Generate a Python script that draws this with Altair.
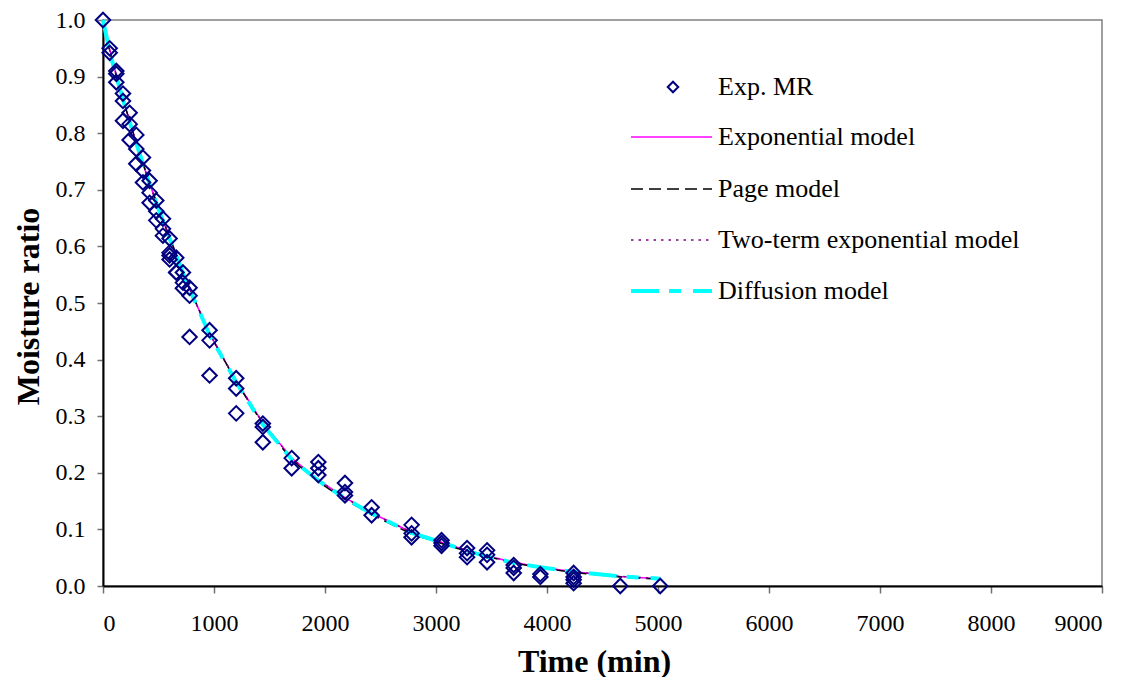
import altair as alt
import pandas as pd

# ---------------- data ----------------
exp_time = [0,
            60, 60,
            120, 120, 120,
            180, 180, 180,
            240, 240, 240,
            300, 300, 300,
            360, 360, 360,
            420, 420, 420,
            480, 480, 480,
            540, 540, 540,
            600, 600, 600, 600,
            660, 660, 660,
            720, 720, 720,
            780, 780, 780,
            960, 960, 960,
            1200, 1200, 1200,
            1440, 1440, 1440,
            1700, 1700,
            1940, 1940, 1940,
            2180, 2180, 2180,
            2420, 2420,
            2780, 2780, 2780,
            3050, 3050, 3050,
            3280, 3280, 3280,
            3460, 3460, 3460,
            3700, 3700, 3700,
            3940, 3940,
            4240, 4240, 4240, 4240,
            4660,
            5020]
exp_mr = [1.0,
          0.950, 0.942,
          0.910, 0.905, 0.890,
          0.870, 0.857, 0.822,
          0.836, 0.816, 0.788,
          0.797, 0.772, 0.746,
          0.757, 0.734, 0.713,
          0.716, 0.695, 0.677,
          0.681, 0.662, 0.646,
          0.649, 0.631, 0.619,
          0.614, 0.589, 0.584, 0.577,
          0.580, 0.554, 0.554,
          0.554, 0.536, 0.526,
          0.527, 0.513, 0.440,
          0.452, 0.434, 0.372,
          0.367, 0.349, 0.305,
          0.287, 0.281, 0.254,
          0.226, 0.208,
          0.219, 0.208, 0.196,
          0.182, 0.166, 0.160,
          0.139, 0.125,
          0.108, 0.093, 0.086,
          0.081, 0.076, 0.071,
          0.067, 0.058, 0.051,
          0.063, 0.055, 0.042,
          0.037, 0.032, 0.023,
          0.021, 0.016,
          0.023, 0.016, 0.011, 0.005,
          0.0,
          0.0]

model_time = [0, 60, 120, 180, 240, 300, 360, 420, 480, 540, 600, 660, 720, 780,
              960, 1200, 1440, 1700, 1940, 2180, 2420, 2780, 3050, 3280, 3460,
              3700, 3940, 4240, 4660, 5020]
exponential_mr = [1.0, 0.948, 0.903, 0.861, 0.821, 0.782, 0.746, 0.711, 0.678, 0.646,
                  0.615, 0.585, 0.555, 0.525, 0.446, 0.362, 0.288, 0.226, 0.187,
                  0.156, 0.129, 0.095, 0.077, 0.063, 0.053, 0.042, 0.033, 0.025,
                  0.017, 0.013]
page_mr = [1.0, 0.945, 0.901, 0.860, 0.821, 0.783, 0.747, 0.712, 0.679, 0.647,
           0.616, 0.586, 0.556, 0.526, 0.446, 0.361, 0.286, 0.223, 0.184,
           0.153, 0.126, 0.092, 0.075, 0.061, 0.052, 0.041, 0.032, 0.024,
           0.016, 0.012]
two_term_mr = [1.0, 0.947, 0.902, 0.861, 0.821, 0.782, 0.746, 0.711, 0.678, 0.646,
               0.615, 0.585, 0.555, 0.525, 0.446, 0.362, 0.288, 0.226, 0.187,
               0.156, 0.129, 0.095, 0.077, 0.063, 0.053, 0.042, 0.033, 0.025,
               0.017, 0.013]
diffusion_mr = [1.0, 0.944, 0.900, 0.860, 0.820, 0.782, 0.746, 0.710, 0.677, 0.645,
                0.614, 0.584, 0.554, 0.524, 0.444, 0.360, 0.285, 0.224, 0.186,
                0.155, 0.128, 0.094, 0.077, 0.062, 0.052, 0.041, 0.033, 0.025,
                0.017, 0.013]

x_ticks = [0, 1000, 2000, 3000, 4000, 5000, 6000, 7000, 8000, 9000]
y_ticks = [0.0, 0.1, 0.2, 0.3, 0.4, 0.5, 0.6, 0.7, 0.8, 0.9, 1.0]

legend_labels = ["Exp. MR", "Exponential model", "Page model",
                 "Two-term exponential model", "Diffusion model"]

# ---------------- chart ----------------
FONT = "Liberation Serif"
NAVY = "#000080"
PAGE_DASH = [12, 6]
TWO_DASH = [2.5, 5]
DIFF_DASH = [28, 10, 12, 12]

exp_df = pd.DataFrame({"t": exp_time, "mr": exp_mr})

xscale = alt.Scale(domain=[0, 9000], nice=False)
yscale = alt.Scale(domain=[0, 1], nice=False)

x_axis = alt.Axis(values=x_ticks, title="Time (min)", grid=False, format="d",
                  domainColor="black", domainWidth=2, tickColor="#707070",
                  tickSize=7, tickWidth=1.5, labelPadding=18,
                  titleX=491, titleY=85, titleBaseline="alphabetic", titleAlign="center")
y_axis = alt.Axis(values=y_ticks, title="Moisture ratio", grid=False, format=".1f",
                  domainColor="black", domainWidth=2, tickColor="#707070",
                  tickSize=6, tickWidth=1.5, labelPadding=12,
                  titleX=-75, titleY=286, titleBaseline="middle", titleAlign="center",
                  titleAngle=270)


def model_line(vals, color, width, dash=None):
    df = pd.DataFrame({"t": model_time, "mr": vals})
    kw = dict(color=color, strokeWidth=width)
    if dash is not None:
        kw["strokeDash"] = dash
    return alt.Chart(df).mark_line(**kw).encode(
        x=alt.X("t:Q", scale=xscale, axis=x_axis),
        y=alt.Y("mr:Q", scale=yscale, axis=y_axis),
    )


l_exp = model_line(exponential_mr, "#FF00FF", 1.5)
l_page = model_line(page_mr, "black", 1.5, PAGE_DASH)
l_two = model_line(two_term_mr, "#800080", 1.5, TWO_DASH)
l_diff = model_line(diffusion_mr, "#00FFFF", 4, DIFF_DASH)

pts = alt.Chart(exp_df).mark_point(shape="diamond", filled=False, color=NAVY,
                                   opacity=1, strokeWidth=2, size=210).encode(
    x=alt.X("t:Q", scale=xscale, axis=x_axis),
    y=alt.Y("mr:Q", scale=yscale, axis=y_axis),
)

# ---------------- manual legend ----------------
leg_y = [67, 117, 169, 220, 271]
leg_x_text = 615
line_x0, line_x1 = 528, 609


def leg_text(label, y):
    return alt.Chart(pd.DataFrame({"lab": [label]})).mark_text(
        align="left", baseline="middle", font=FONT, fontSize=26, color="black"
    ).encode(x=alt.value(leg_x_text), y=alt.value(y), text="lab:N")


def leg_line(y, color, width, dash=None):
    kw = dict(color=color, strokeWidth=width)
    if dash is not None:
        kw["strokeDash"] = dash
    return alt.Chart(pd.DataFrame({"a": [0]})).mark_rule(**kw).encode(
        x=alt.value(line_x0), x2=alt.value(line_x1), y=alt.value(y))


leg_pt = alt.Chart(pd.DataFrame({"a": [0]})).mark_point(
    shape="diamond", filled=False, color=NAVY, opacity=1, strokeWidth=2, size=110
).encode(x=alt.value(570), y=alt.value(leg_y[0]))

legend_layers = [
    leg_pt, leg_text(legend_labels[0], leg_y[0]),
    leg_line(leg_y[1], "#FF00FF", 1.5), leg_text(legend_labels[1], leg_y[1]),
    leg_line(leg_y[2], "black", 1.5, PAGE_DASH), leg_text(legend_labels[2], leg_y[2]),
    leg_line(leg_y[3], "#800080", 1.5, TWO_DASH), leg_text(legend_labels[3], leg_y[3]),
    leg_line(leg_y[4], "#00FFFF", 4, DIFF_DASH), leg_text(legend_labels[4], leg_y[4]),
]

chart = alt.layer(l_exp, l_page, l_two, l_diff, pts, *legend_layers).properties(
    width=999, height=566,
    autosize=alt.AutoSizeParams(type="none"),
    padding={"left": 95, "top": 12, "right": 20, "bottom": 91},
).configure_view(
    stroke="#808080", strokeWidth=1.5
).configure_axis(
    labelFont=FONT, labelFontSize=24, labelColor="black",
    titleFont=FONT, titleFontSize=32, titleFontWeight="bold", titleColor="black",
)

chart.save("out.html", embed_options={"renderer": "svg", "actions": False})
